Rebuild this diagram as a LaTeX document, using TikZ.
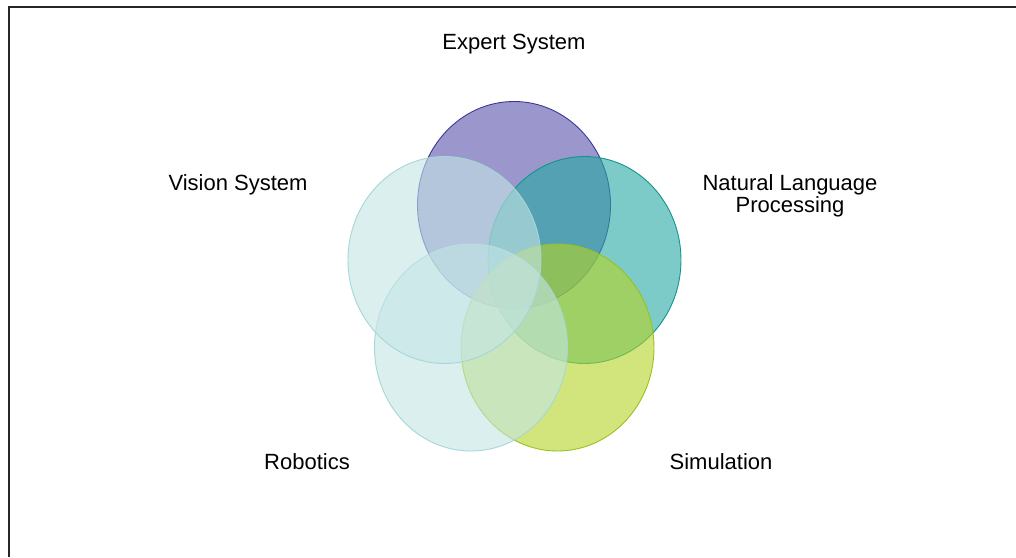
\documentclass[tikz,border=0pt]{standalone}
\usepackage{fontspec}
\setmainfont{Liberation Sans}
\definecolor{expertfill}{HTML}{5852AA}
\definecolor{expertline}{HTML}{3A3A96}
\definecolor{nlpfill}{HTML}{25A8A3}
\definecolor{nlpline}{HTML}{12958F}
\definecolor{simfill}{HTML}{B4D425}
\definecolor{simline}{HTML}{98C31A}
\definecolor{robfill}{HTML}{C4E5E5}
\definecolor{robline}{HTML}{A6D6D6}
\tikzset{
    petal/.style={fill opacity=0.6, line width=0.9pt},
    lbl/.style={font=\fontsize{22}{22}\selectfont, align=center, inner sep=0pt}
}

\begin{document}
\begin{tikzpicture}[x=1pt, y=-1pt]
        \useasboundingbox (0,0) rectangle (1016,557);
        % frame
        \draw[line width=2.2pt, black!85] (1016,7) -- (9,7) -- (9,557);
        % petals, clockwise from the top
        \filldraw[petal, fill=expertfill, draw=expertline] (514,205) ellipse [x radius=96.5, y radius=103.5];
        \filldraw[petal, fill=nlpfill, draw=nlpline] (584.5,260) ellipse [x radius=96.5, y radius=103.5];
        \filldraw[petal, fill=simfill, draw=simline] (557.5,347.5) ellipse [x radius=96.5, y radius=103.5];
        \filldraw[petal, fill=robfill, draw=robline] (471,347.5) ellipse [x radius=96.5, y radius=103.5];
        \filldraw[petal, fill=robfill, draw=robline] (444.5,260) ellipse [x radius=96.5, y radius=103.5];
        % labels
        \node[lbl, anchor=base] (expert) at (514,49) {Expert System};
        \node[lbl, anchor=base] (nlp) at (790,212) {Natural Language\\Processing};
        \node[lbl, anchor=base] (sim) at (721,469) {Simulation};
        \node[lbl, anchor=base] (robot) at (307,469) {Robotics};
        \node[lbl, anchor=base] (vision) at (238,190) {Vision System};
    \end{tikzpicture}
\end{document}
